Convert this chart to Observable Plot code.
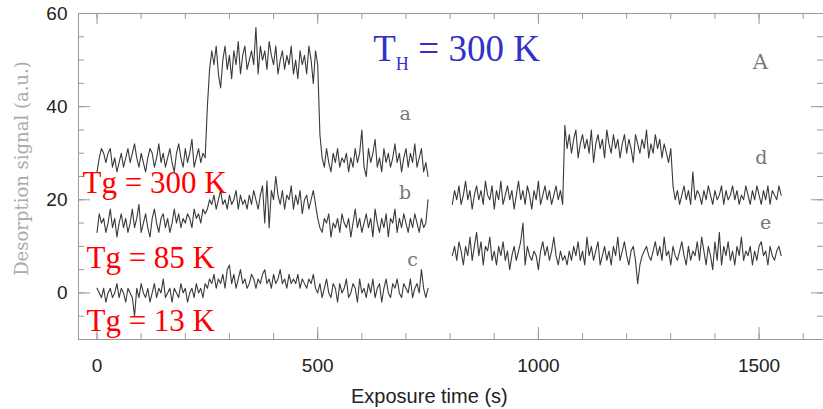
<!DOCTYPE html>
<html><head><meta charset="utf-8">
<script src="https://cdn.jsdelivr.net/npm/d3@7"></script>
<script src="https://cdn.jsdelivr.net/npm/@observablehq/plot@0.6"></script>
<style>body{margin:0;background:#fff;}</style>
</head><body><div id="chart"></div>
<script>
// ---- data ----
const step = 5; // s between samples
const startABC = 0;
const startDE = 805;
const traceA = [26,29,31,30,28,30,31,27,29,26,28,30,27,29,31,28,30,32,29,27,30,28,26,29,31,30,27,29,32,28,30,27,29,31,28,26,30,32,29,27,31,28,30,33,27,29,31,28,30,29,
40,48,
52,49,53,47,44,50,53,48,51,46,52,49,54,47,51,53,48,50,52,49,57,47,53,50,52,48,54,51,49,53,47,50,52,48,51,49,53,47,50,46,52,49,51,47,53,50,45,52,
49,34,
29,27,31,28,26,30,28,31,27,29,28,30,26,29,27,31,28,30,35,27,25,31,28,30,33,27,29,26,31,28,30,27,29,32,28,30,26,29,31,27,30,28,32,27,29,31,26,28,25];
const traceB = [13,17,15,16,13,15,18,14,16,12,15,17,14,16,13,15,18,14,16,19,13,15,17,14,12,16,18,15,13,16,17,14,16,13,15,18,15,17,14,16,15,17,16,14,18,16,17,15,18,17,
18,20,19,21,18,20,22,19,20,18,21,19,20,22,18,21,19,20,18,21,19,22,20,18,21,23,15,24,14,22,20,25,21,19,22,18,21,20,23,18,21,19,22,17,20,21,18,20,22,19,
16,14,13,16,15,17,12,15,14,16,13,17,15,14,16,12,15,18,14,16,13,15,17,14,16,12,18,15,13,16,14,17,12,16,15,18,13,16,14,17,15,13,16,14,17,15,13,16,14,15,20];
const traceC = [1,0,-1,1,-2,0,1,-1,0,2,-1,1,0,-2,1,0,-1,-5,1,-1,2,0,-1,1,-2,0,2,-1,1,0,3,-1,0,1,-2,1,0,-1,2,0,1,-2,0,1,-1,2,0,1,-1,2,
1,3,2,4,1,3,2,4,1,5,6,2,4,1,3,5,2,3,1,2,4,3,1,3,2,4,5,2,3,1,4,2,3,5,2,3,1,4,2,3,2,4,1,3,2,1,3,2,4,1,
0,2,-1,1,3,0,-1,2,1,-2,2,0,1,3,-1,0,2,1,-2,3,0,1,-1,2,0,3,-1,1,2,-2,1,3,0,-1,2,1,3,0,-1,2,1,0,3,-1,1,2,0,5,1,-1,1];
const traceD = [19,22,20,23,19,21,24,20,22,18,21,23,20,22,19,24,21,20,23,18,22,20,24,19,21,23,20,22,18,21,24,20,22,19,23,21,18,22,20,24,19,21,23,20,22,19,21,23,20,22,19,
36,31,34,30,33,35,29,32,34,31,33,30,35,28,32,34,31,33,29,35,32,30,34,31,33,29,32,34,30,33,31,28,34,32,30,33,31,35,29,32,30,34,31,33,29,32,30,28,31,
23,20,22,19,21,23,20,22,19,26,20,22,21,19,22,20,23,21,19,22,20,21,23,19,22,20,21,23,20,22,19,21,20,23,21,19,22,20,23,21,19,22,20,23,19,22,21,20,23,21];
const traceE = [8,10,7,11,9,6,10,8,12,7,10,13,8,11,6,10,9,12,7,9,6,10,8,11,7,9,5,8,10,7,9,11,15,6,10,8,7,9,8,5,
9,11,8,10,7,9,12,8,6,9,7,8,6,9,7,10,8,11,7,9,6,12,8,10,7,9,11,6,8,10,7,9,6,10,8,12,7,9,11,8,
6,9,10,7,2,6,8,9,10,8,7,9,11,8,10,7,12,8,9,6,10,8,7,9,11,8,6,10,7,9,8,11,7,12,9,6,10,8,5,11,
7,13,6,10,8,11,7,9,6,10,8,12,7,9,8,10,6,9,7,10,11,8,9,6,10,8,7,9,10,8];

const curveNames = ["a","b","c","d","e"];
const curveLabelX = [698, 698, 715, 1505, 1515];
const curveLabelY = [38.5, 21.5, 7, 29, 15];
const panelLabel = "A";
const panelLabelX = 1503, panelLabelY = 49.5;

const tgLabels = ["Tg = 300 K", "Tg = 85 K", "Tg = 13 K"];
const tgLabelX = [-33, -24, -24];
const tgLabelY = [21.5, 5.45, -8.1];

const xMajorTicks = [0, 500, 1000, 1500];
const xMinorTicks = [0,100,200,300,400,500,600,700,800,900,1000,1100,1200,1300,1400,1500,1600];
const yMajorTicks = [0, 20, 40, 60];
const yMinorTicks = [-5,0,5,10,15,20,25,30,35,40,45,50,55];
const xLabel = "Exposure time (s)";
const yLabel = "Desorption signal (a.u.)";

// ---- build table ----
function series(name, start, vals) { return vals.map((v, i) => ({name, t: start + i * step, v})); }
const rows = [
  ...series("a", startABC, traceA),
  ...series("b", startABC, traceB),
  ...series("c", startABC, traceC),
  ...series("d", startDE, traceD),
  ...series("e", startDE, traceE)
];
const curveLabels = curveNames.map((n, i) => ({n, x: curveLabelX[i], y: curveLabelY[i]}));
const tgRows = tgLabels.map((s, i) => ({s, x: tgLabelX[i], y: tgLabelY[i]}));

const W = 823, H = 409, mT = 13, mB = 70, mL = 78, mR = 0;
const innerH = H - mT - mB, innerW = W - mL - mR;
const tickC = "#999";

const plot = Plot.plot({
  width: W, height: H,
  marginTop: mT, marginBottom: mB, marginLeft: mL, marginRight: mR,
  x: {domain: [-42, 1646]},
  y: {domain: [-10, 60]},
  style: {background: "#fff", fontFamily: "'Liberation Sans', Arial, sans-serif"},
  marks: [
    Plot.frame({stroke: tickC}),
    Plot.ruleX(xMinorTicks, {insetTop: innerH - 6, stroke: tickC}),
    Plot.ruleX(xMajorTicks, {insetTop: innerH - 12, stroke: tickC}),
    Plot.ruleX(xMinorTicks, {insetBottom: innerH - 6, stroke: tickC}),
    Plot.ruleX(xMajorTicks, {insetBottom: innerH - 11, stroke: tickC}),
    Plot.ruleY(yMinorTicks, {insetRight: innerW - 6, stroke: tickC}),
    Plot.ruleY(yMajorTicks, {insetRight: innerW - 12, stroke: tickC}),
    Plot.ruleY(yMinorTicks, {insetLeft: innerW - 6, stroke: tickC}),
    Plot.ruleY(yMajorTicks, {insetLeft: innerW - 12, stroke: tickC}),
    Plot.axisX(xMajorTicks, {anchor: "bottom", tickSize: 0, tickPadding: 19, fontSize: 19, color: "#222", label: null, tickFormat: d => String(d)}),
    Plot.axisY(yMajorTicks, {anchor: "left", tickSize: 0, tickPadding: 11, fontSize: 19, color: "#222", label: null, tickFormat: d => String(d)}),
    Plot.text([xLabel], {x: 753, frameAnchor: "bottom", dy: 63, lineAnchor: "bottom", fontSize: 20, fill: "#222"}),
    Plot.text([yLabel], {y: 26.7, frameAnchor: "left", dx: -56, rotate: -90, textAnchor: "middle", fontSize: 18, fill: "#aaa", fontFamily: "'DejaVu Serif', serif"}),
    Plot.line(rows, {x: "t", y: "v", z: "name", stroke: "#3a3a3a", strokeWidth: 1.1}),
    Plot.text(curveLabels, {x: "x", y: "y", text: "n", fontSize: 19, fill: "#777", fontFamily: "'DejaVu Serif', serif"}),
    Plot.text([panelLabel], {x: panelLabelX, y: panelLabelY, fontSize: 21, fill: "#777", fontFamily: "'DejaVu Serif', serif"}),
    Plot.text(tgRows, {x: "x", y: "y", text: "s", textAnchor: "start", lineAnchor: "bottom", fontSize: 31, fill: "#ff0000", fontFamily: "'Liberation Serif', 'Times New Roman', serif"}),
    Plot.text(["T"], {x: 626, y: 49.7, textAnchor: "start", lineAnchor: "bottom", fontSize: 37, fill: "#3232c8", fontFamily: "'Liberation Serif', 'Times New Roman', serif"}),
    Plot.text(["H"], {x: 677, y: 47.8, textAnchor: "start", lineAnchor: "bottom", fontSize: 18, fill: "#3232c8", fontFamily: "'Liberation Serif', 'Times New Roman', serif"}),
    Plot.text(["= 300 K"], {x: 728, y: 49.7, textAnchor: "start", lineAnchor: "bottom", fontSize: 37, fill: "#3232c8", fontFamily: "'Liberation Serif', 'Times New Roman', serif"})
  ]
});
document.getElementById("chart").appendChild(plot);
</script>
</body></html>
